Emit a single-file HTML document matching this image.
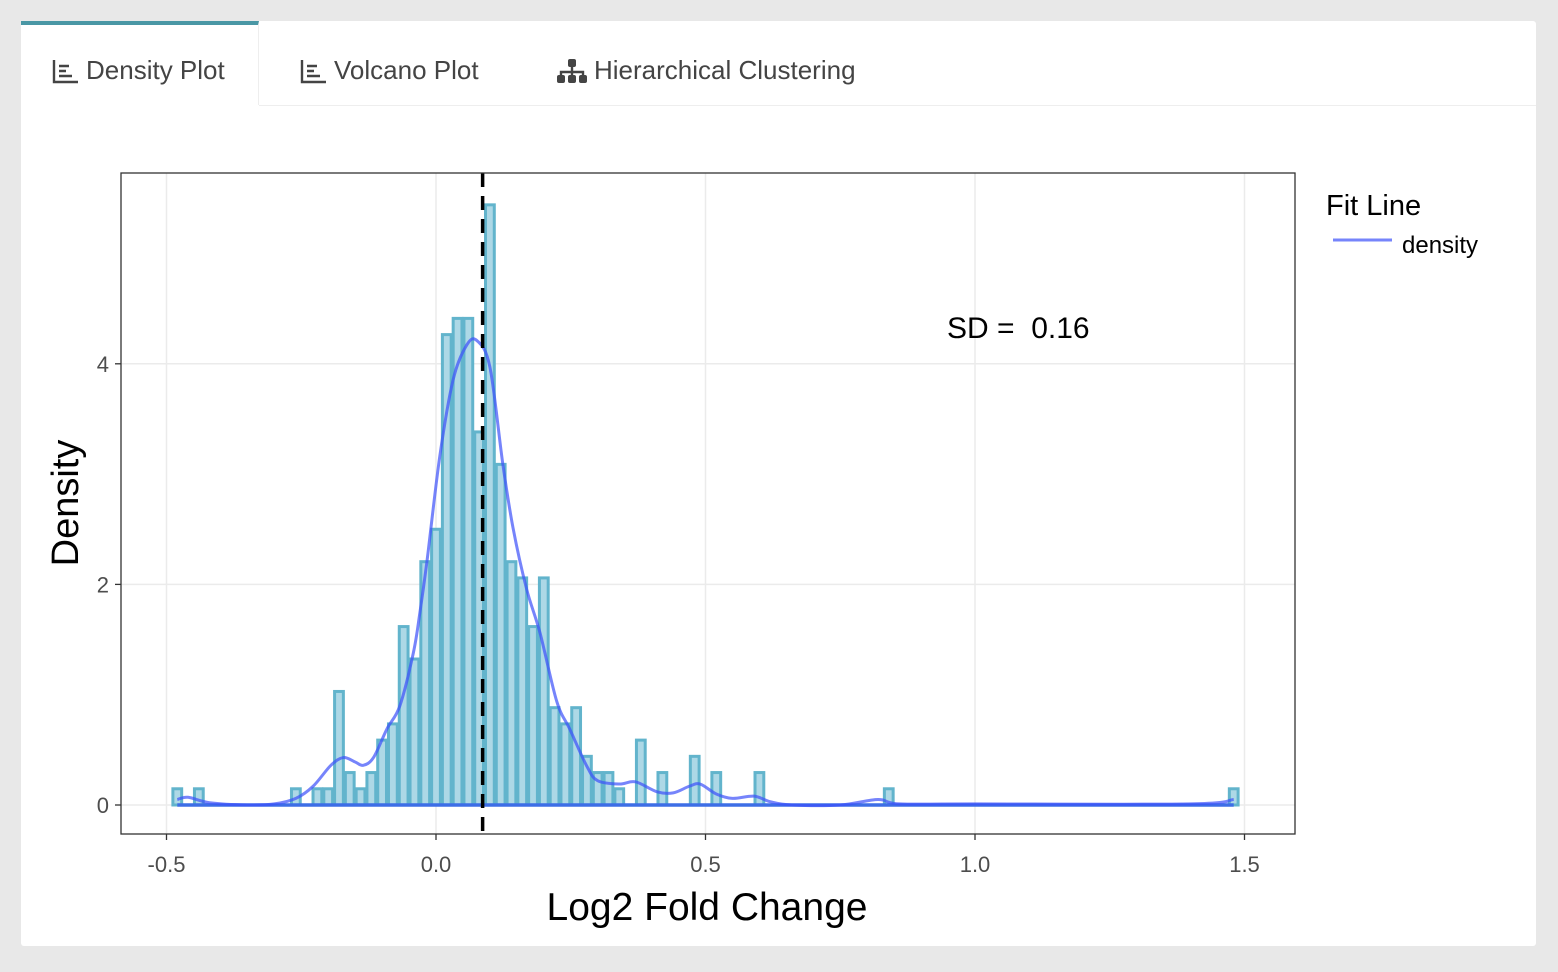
<!DOCTYPE html>
<html><head><meta charset="utf-8">
<style>
body{margin:0;width:1558px;height:972px;background:#e8e8e8;font-family:"Liberation Sans",sans-serif;overflow:hidden;position:relative}
.card{position:absolute;left:21px;top:21px;width:1515px;height:925px;background:#fff;border-radius:3px}
.tabline{position:absolute;left:238px;top:84px;width:1277px;height:1px;background:#eee}
.tab{position:absolute;top:34px;font-size:26px;color:#444;display:flex;align-items:center;gap:6px;cursor:pointer}
.tab.active{left:0;top:0;width:238px;height:84px;border-top:4px solid #4a97a5;box-sizing:border-box;border-right:1px solid #eee}
</style></head><body>
<div class="card">
 <div class="tabline"></div>
 <div class="tab active"><span style="position:absolute;left:31px;top:30px;display:flex;align-items:center;gap:6px">
  <svg width="28" height="26" viewBox="0 0 28 26"><path d="M2 2v22h24M7 8h10M7 13h7M7 18h13" stroke="#444" stroke-width="2.4" fill="none"/></svg>Density Plot</span></div>
 <div class="tab" style="left:279px"><svg width="28" height="26" viewBox="0 0 28 26"><path d="M2 2v22h24M7 8h10M7 13h7M7 18h13" stroke="#444" stroke-width="2.4" fill="none"/></svg>Volcano Plot</div>
 <div class="tab" style="left:535px"><svg width="32" height="26" viewBox="0 0 32 26"><rect x="12" y="1" width="8" height="8" rx="2" fill="#444"/><path d="M16 9v5M5 18v-4h22v4M16 14v4" stroke="#444" stroke-width="2.4" fill="none"/><rect x="1" y="17" width="8" height="8" rx="2" fill="#444"/><rect x="12" y="17" width="8" height="8" rx="2" fill="#444"/><rect x="23" y="17" width="8" height="8" rx="2" fill="#444"/></svg>Hierarchical Clustering</div>
</div>
<svg id="chart" width="1558" height="972" style="position:absolute;left:0;top:0"></svg>
<script>
const binCenters=[-0.48,-0.44,-0.26,-0.22,-0.20,-0.18,-0.16,-0.14,-0.12,-0.10,-0.08,-0.06,-0.04,-0.02,0.00,0.02,0.04,0.06,0.08,0.10,0.12,0.14,0.16,0.18,0.20,0.22,0.24,0.26,0.28,0.30,0.32,0.34,0.38,0.42,0.48,0.52,0.60,0.84,1.48];
const binCounts=[1,1,1,1,1,7,2,1,2,4,5,11,9,15,17,29,30,30,23,37,21,15,14,11,14,6,5,6,3,2,2,1,4,2,3,2,2,1,1];
const totalN=340, binWidth=0.02;
const densX=[-0.48,-0.46,-0.42,-0.35,-0.3,-0.26,-0.228,-0.195,-0.172,-0.15,-0.135,-0.116,-0.091,-0.067,-0.042,-0.03,-0.017,0.007,0.032,0.057,0.076,0.10,0.124,0.143,0.168,0.193,0.224,0.248,0.28,0.30,0.34,0.37,0.41,0.44,0.47,0.49,0.52,0.55,0.59,0.62,0.66,0.75,0.82,0.86,1.0,1.4,1.48];
const densY=[0.05,0.07,0.02,0,0.01,0.06,0.17,0.36,0.43,0.39,0.36,0.43,0.69,0.9,1.38,1.74,2.2,3.16,3.86,4.17,4.21,3.97,3.09,2.51,1.96,1.56,0.94,0.69,0.35,0.22,0.19,0.21,0.12,0.11,0.17,0.19,0.1,0.06,0.08,0.03,0,0,0.05,0.01,0.01,0.01,0.05];
const xTicks=[-0.5,0.0,0.5,1.0,1.5];
const xTickLabels=["-0.5","0.0","0.5","1.0","1.5"];
const yTicks=[0,2,4];
const meanVal=0.0865;
const NS="http://www.w3.org/2000/svg";
const svg=document.getElementById('chart');
const X=v=>436+(v-0)*539, Y=v=>805-v*110.3;
function mk(t,a,p){const e=document.createElementNS(NS,t);for(const k in a)e.setAttribute(k,a[k]);(p||svg).appendChild(e);return e;}
const L=121,T=173,R=1295,B=834;
xTicks.forEach(v=>{const g=mk('line',{x1:X(v),x2:X(v),y1:T,y2:B,stroke:'#ebebeb','stroke-width':1.5});

});
yTicks.forEach(v=>{const g=mk('line',{x1:L,x2:R,y1:Y(v),y2:Y(v),stroke:'#ebebeb','stroke-width':1.5});

});
binCenters.forEach((c,i)=>{const d=binCounts[i]/(totalN*binWidth);const x0=X(c-binWidth/2),x1=X(c+binWidth/2);
const r=mk('rect',{x:x0+1,y:Y(d),width:x1-x0-2,height:Y(0)-Y(d),fill:'#add8e6',stroke:'#62b4cc','stroke-width':3});

});
const bl=mk('line',{x1:X(densX[0]),x2:X(densX[densX.length-1]),y1:Y(0),y2:Y(0),stroke:'#3d6ee6','stroke-width':3.5});


const pts=densX.map((x,i)=>[X(x),Y(densY[i])]);
let d='M'+pts[0][0]+' '+pts[0][1];
for(let i=1;i<pts.length;i++){const p0=pts[Math.max(0,i-2)],p1=pts[i-1],p2=pts[i],p3=pts[Math.min(pts.length-1,i+1)];
d+=` C${p1[0]+(p2[0]-p0[0])/6} ${p1[1]+(p2[1]-p0[1])/6} ${p2[0]-(p3[0]-p1[0])/6} ${p2[1]-(p3[1]-p1[1])/6} ${p2[0]} ${p2[1]}`;}
const dl=mk('path',{d:d,fill:'none',stroke:'rgba(60,80,250,0.7)','stroke-width':3});


const ml=mk('line',{x1:X(meanVal),x2:X(meanVal),y1:T,y2:B,stroke:'#000','stroke-width':3.5,'stroke-dasharray':'14 9'});


const bd=mk('rect',{x:L,y:T,width:R-L,height:B-T,fill:'none',stroke:'#333','stroke-width':1.3});


xTicks.forEach((v,i)=>{mk('line',{x1:X(v),x2:X(v),y1:B,y2:B+6,stroke:'#333','stroke-width':1.3});
const t=mk('text',{x:X(v),y:872,'text-anchor':'middle','font-size':22,fill:'#4d4d4d'});t.textContent=xTickLabels[i];

});
yTicks.forEach(v=>{mk('line',{x1:L-6,x2:L,y1:Y(v),y2:Y(v),stroke:'#333','stroke-width':1.3});
const t=mk('text',{x:L-12,y:Y(v)+8,'text-anchor':'end','font-size':22,fill:'#4d4d4d'});t.textContent=String(v);

});
</script>
<svg width="1558" height="972" style="position:absolute;left:0;top:0">
<text x="707" y="920" text-anchor="middle" font-size="39" fill="#000">Log2 Fold Change</text>
<text transform="translate(78,503) rotate(-90)" text-anchor="middle" font-size="38" fill="#000">Density</text>
<text x="947" y="338" font-size="30" fill="#000" xml:space="preserve">SD =  0.16</text>
<text x="1326" y="215" font-size="29" fill="#000">Fit Line</text>
<line x1="1333" x2="1392" y1="240" y2="240" stroke="rgba(60,80,250,0.7)" stroke-width="3"/>
<text x="1402" y="253" font-size="24" fill="#000">density</text>
</svg>
</body></html>
